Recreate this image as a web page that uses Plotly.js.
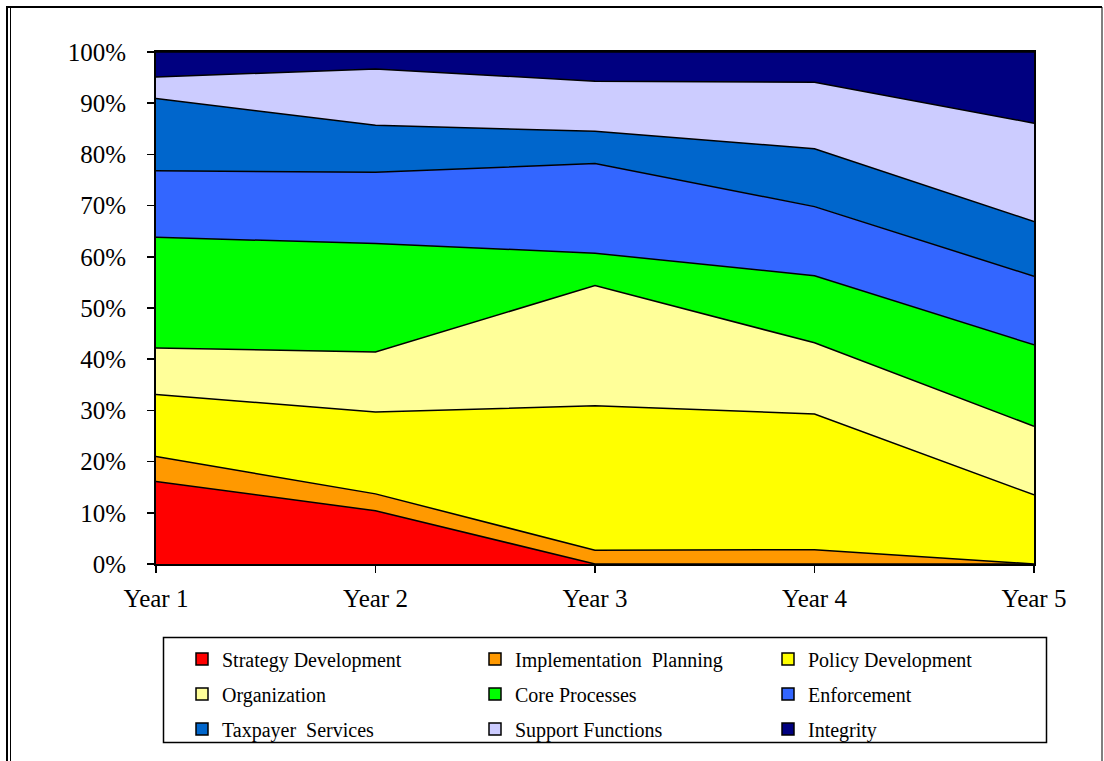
<!DOCTYPE html>
<html>
<head>
<meta charset="utf-8">
<script src="https://cdn.plot.ly/plotly-3.0.1.min.js"></script>
<style>
  html, body { margin: 0; padding: 0; background: #ffffff; }
  #chart { width: 1104px; height: 761px; }
</style>
</head>
<body>
<div id="chart"></div>
<script>
// ---- data (percent of total) ----
var years = ['Year 1', 'Year 2', 'Year 3', 'Year 4', 'Year 5'];
var strategyDevelopment     = [16.1, 10.4, 0.0, 0.0, 0.0];
var implementationPlanning  = [4.9, 3.3, 2.7, 2.8, 0.0];
var policyDevelopment       = [12.1, 16.0, 28.2, 26.5, 13.5];
var organization            = [9.1, 11.7, 23.5, 13.9, 13.4];
var coreProcesses           = [21.6, 21.2, 6.3, 13.1, 15.9];
var enforcement             = [13.0, 13.9, 17.5, 13.5, 13.4];
var taxpayerServices        = [14.1, 9.2, 6.3, 11.3, 10.7];
var supportFunctions        = [4.2, 11.0, 9.8, 13.0, 19.2];
var integrity               = [4.9, 3.3, 5.7, 5.9, 13.9];

var seriesNames = ['Strategy Development', 'Implementation\u00a0\u00a0Planning', 'Policy Development',
                   'Organization', 'Core Processes', 'Enforcement',
                   'Taxpayer\u00a0\u00a0Services', 'Support Functions', 'Integrity'];
var seriesValues = [strategyDevelopment, implementationPlanning, policyDevelopment,
                    organization, coreProcesses, enforcement,
                    taxpayerServices, supportFunctions, integrity];
var seriesColors = ['#FF0000', '#FF9900', '#FFFF00', '#FFFF99', '#00FF00',
                    '#3366FF', '#0066CC', '#CCCCFF', '#000080'];
var yTickVals   = [0, 10, 20, 30, 40, 50, 60, 70, 80, 90, 100];
var yTickLabels = ['0%', '10%', '20%', '30%', '40%', '50%', '60%', '70%', '80%', '90%', '100%'];

var FONT = '"Liberation Serif", "Times New Roman", Times, serif';

var traces = [];
// stacked areas
for (var i = 0; i < seriesNames.length; i++) {
  traces.push({
    type: 'scatter',
    x: years,
    y: seriesValues[i],
    name: seriesNames[i],
    stackgroup: 'one',
    groupnorm: i === 0 ? 'percent' : undefined,
    mode: 'lines',
    line: { color: '#000000', width: 1.5 },
    fillcolor: seriesColors[i],
    showlegend: false,
    hoverinfo: 'x+y+name'
  });
}
// legend entries (square swatches), one legend per row
var legendIds = ['legend', 'legend2', 'legend3'];
for (var j = 0; j < seriesNames.length; j++) {
  traces.push({
    type: 'scatter',
    x: [null],
    y: [null],
    name: seriesNames[j],
    mode: 'markers',
    marker: { symbol: 'square', size: 12, color: seriesColors[j],
              line: { color: '#000000', width: 1.5 } },
    legend: legendIds[Math.floor(j / 3)],
    showlegend: true,
    hoverinfo: 'skip'
  });
}

// geometry helpers (plot area: x 156..1034, y 52..564)
var L = 156, R = 70, T = 52, B = 197;
var W = 1104 - L - R, H = 761 - T - B;
function px(x) { return (x - L) / W; }
function py(y) { return (T + H - y) / H; }

function legendRow(yCenter) {
  return {
    orientation: 'h',
    x: px(182), xanchor: 'left',
    y: py(yCenter), yanchor: 'middle',
    font: { family: FONT, size: 20, color: '#000000' },
    bgcolor: 'rgba(0,0,0,0)',
    borderwidth: 0,
    entrywidth: 248,
    entrywidthmode: 'pixels',
    traceorder: 'normal',
    itemclick: false,
    itemdoubleclick: false
  };
}

var layout = {
  width: 1104,
  height: 761,
  margin: { l: L, r: R, t: T, b: B, pad: 0 },
  paper_bgcolor: '#ffffff',
  plot_bgcolor: '#ffffff',
  font: { family: FONT, color: '#000000', size: 25 },
  showlegend: true,
  xaxis: {
    type: 'category',
    range: [0, 4],
    showgrid: false,
    zeroline: false,
    showline: true,
    linecolor: '#000000',
    linewidth: 2,
    mirror: true,
    ticks: 'outside',
    ticklen: 7,
    tickwidth: 1.5,
    tickcolor: '#000000',
    ticklabelstandoff: 4,
    tickfont: { family: FONT, size: 25, color: '#000000' }
  },
  yaxis: {
    range: [0, 100],
    tickmode: 'array',
    tickvals: yTickVals,
    ticktext: yTickLabels,
    showgrid: false,
    zeroline: false,
    showline: true,
    linecolor: '#000000',
    linewidth: 2,
    mirror: true,
    ticks: 'outside',
    ticklen: 7,
    tickwidth: 1.5,
    tickcolor: '#000000',
    ticklabelstandoff: 16,
    tickfont: { family: FONT, size: 25, color: '#000000' }
  },
  legend: legendRow(659),
  legend2: legendRow(694),
  legend3: legendRow(729),
  shapes: [
    // outer frame (double line on the left)
    { type: 'line', xref: 'paper', yref: 'paper', x0: px(7), x1: px(7), y0: py(7), y1: py(790),
      line: { color: '#000000', width: 2 } },
    { type: 'line', xref: 'paper', yref: 'paper', x0: px(10.5), x1: px(10.5), y0: py(7), y1: py(790),
      line: { color: '#000000', width: 1 } },
    { type: 'line', xref: 'paper', yref: 'paper', x0: px(6), x1: px(1102), y0: py(7), y1: py(7),
      line: { color: '#000000', width: 2 } },
    { type: 'line', xref: 'paper', yref: 'paper', x0: px(1102), x1: px(1102), y0: py(7), y1: py(790),
      line: { color: '#000000', width: 1 } },
    // legend box
    { type: 'rect', xref: 'paper', yref: 'paper', x0: px(163.5), x1: px(1046.5), y0: py(742.5), y1: py(637.5),
      line: { color: '#000000', width: 1.5 }, fillcolor: 'rgba(0,0,0,0)', layer: 'below' }
  ]
};

Plotly.newPlot('chart', traces, layout, { staticPlot: true, displayModeBar: false });
</script>
</body>
</html>
